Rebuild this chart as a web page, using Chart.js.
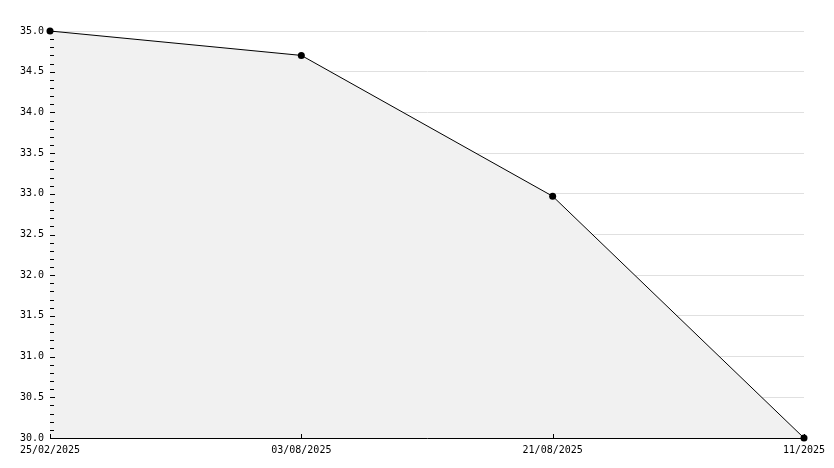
<!DOCTYPE html>
<html>
<head>
<meta charset="utf-8">
<script src="https://cdn.jsdelivr.net/npm/chart.js@4"></script>
<style>
  html, body { margin: 0; padding: 0; background: #fff; }
  #wrap { width: 834px; height: 468px; }
</style>
</head>
<body>
<div id="wrap"><canvas id="chart" width="834" height="468"></canvas></div>
<script>
// data
const dates = ['25/02/2025', '03/08/2025', '21/08/2025', '11/2025'];
const values = [35.0, 34.7, 32.97, 30.0];
const yMin = 30.0;
const yMax = 35.0;

// inward tick marks (major every 0.5, minor every 0.1)
const tickMarks = {
    id: 'tickMarks',
    afterDatasetsDraw(chart) {
        const ctx = chart.ctx;
        const y = chart.scales.y;
        const x = chart.scales.x;
        const area = chart.chartArea;
        ctx.save();
        ctx.strokeStyle = '#000';
        ctx.lineWidth = 1;
        ctx.beginPath();
        y.ticks.forEach(t => {
            const py = Math.round(y.getPixelForValue(t.value)) + 0.5;
            const major = Math.round(t.value * 10) % 5 === 0;
            ctx.moveTo(area.left, py);
            ctx.lineTo(area.left + (major ? 5 : 4), py);
        });
        dates.forEach((d, i) => {
            const px = Math.round(x.getPixelForValue(i)) + 0.5;
            ctx.moveTo(px, area.bottom);
            ctx.lineTo(px, area.bottom - 4);
        });
        ctx.stroke();
        ctx.restore();
    }
};

new Chart(document.getElementById('chart'), {
    type: 'line',
    data: {
        labels: dates,
        datasets: [{
            data: values,
            borderColor: '#000',
            borderWidth: 1,
            backgroundColor: '#f1f1f1',
            fill: 'origin',
            tension: 0,
            clip: false,
            pointRadius: 3.5,
            pointBackgroundColor: '#000',
            pointBorderColor: '#000',
            pointBorderWidth: 0
        }]
    },
    options: {
        responsive: false,
        animation: false,
        layout: { padding: { top: 31, right: 30, left: 0, bottom: 0 } },
        plugins: {
            legend: { display: false },
            tooltip: { enabled: false }
        },
        scales: {
            x: {
                offset: false,
                grid: { display: false, drawTicks: false },
                border: { display: true, color: '#000', width: 1 },
                ticks: {
                    color: '#000',
                    padding: 6,
                    maxRotation: 0,
                    autoSkip: false,
                    font: { family: 'DejaVu Sans Mono', size: 10 }
                },
                afterFit(scale) { scale.height = 30; }
            },
            y: {
                min: yMin,
                max: yMax,
                grid: {
                    drawTicks: false,
                    color: ctx => (Math.round(ctx.tick.value * 10) % 5 === 0) ? '#e0e0e0' : 'rgba(0,0,0,0)',
                    lineWidth: 1
                },
                border: { display: true, color: '#000', width: 1 },
                ticks: {
                    stepSize: 0.1,
                    autoSkip: false,
                    color: '#000',
                    padding: 6,
                    font: { family: 'DejaVu Sans Mono', size: 10 },
                    callback: v => (Math.round(v * 10) % 5 === 0) ? Number(v).toFixed(1) : ''
                },
                afterFit(scale) { scale.width = 50; }
            }
        }
    },
    plugins: [tickMarks]
});
</script>
</body>
</html>
